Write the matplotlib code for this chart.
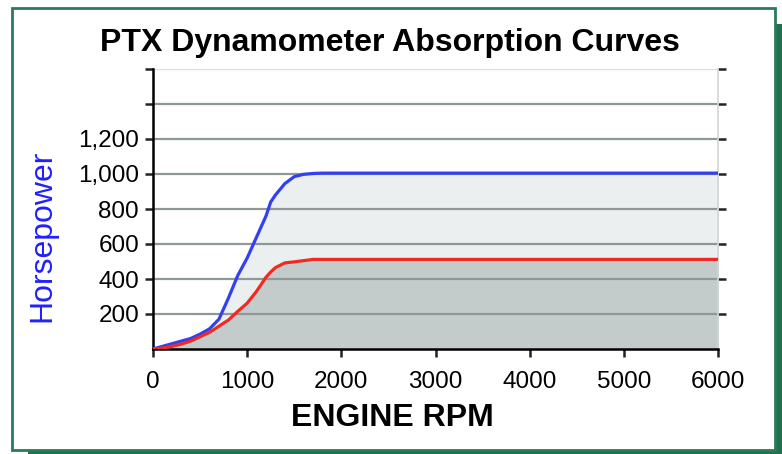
import matplotlib.pyplot as plt
from matplotlib.patches import Rectangle

# data
rpm = [0, 100, 200, 300, 400, 500, 600, 700, 750, 800, 900, 1000, 1100, 1200,
       1250, 1300, 1400, 1500, 1600, 1700, 1800, 6000]
blue_hp = [0, 15, 30, 45, 60, 85, 115, 170, 230, 290, 420, 520, 640, 760,
           840, 880, 945, 985, 998, 1003, 1005, 1005]
red_hp = [0, 5, 15, 28, 45, 70, 95, 130, 148, 165, 215, 262, 330, 410,
          440, 465, 492, 498, 505, 512, 512, 512]

x_ticks = [0, 1000, 2000, 3000, 4000, 5000, 6000]
y_ticks = [200, 400, 600, 800, 1000, 1200, 1400, 1600]
y_labels = ['200', '400', '600', '800', '1,000', '1,200', '', '']

plt.rcParams['font.family'] = ['Liberation Sans', 'DejaVu Sans']

W, H = 782, 454
fig = plt.figure(figsize=(W / 100, H / 100), dpi=100)
fig.patch.set_facecolor('white')

# green frame with drop shadow, kept behind the axes
green = '#2a7a5c'
fig.patches.append(Rectangle((28 / W, 1 - 456 / H), 754 / W, 432 / H,
                             transform=fig.transFigure, facecolor='#21704f',
                             edgecolor='none', zorder=-3))
fig.patches.append(Rectangle((12 / W, 1 - 450 / H), 763 / W, 442 / H,
                             transform=fig.transFigure, facecolor='white',
                             edgecolor=green, linewidth=2, zorder=-2))

ax = fig.add_axes([153 / W, 1 - 349 / H, 565 / W, 280 / H])
ax.set_facecolor('white')
ax.set_xlim(0, 6000)
ax.set_ylim(0, 1600)

ax.fill_between(rpm, red_hp, blue_hp, color='#eceff0', zorder=1)
ax.fill_between(rpm, 0, red_hp, color='#c3cccb', zorder=1)

for yv in y_ticks:
    c = '#d8dcdc' if yv == 1600 else '#8f9898'
    ax.axhline(yv, color=c, lw=1.6, zorder=2)

ax.plot(rpm, blue_hp, color='#3340f0', lw=2.3, zorder=3)
ax.plot(rpm, red_hp, color='#f02a22', lw=2.3, zorder=3)

ax.set_xticks(x_ticks)
ax.set_yticks(y_ticks)
ax.set_yticklabels(y_labels)
ax.tick_params(axis='both', labelsize=17.5, length=6, width=1.8, color='#222222')
ax.tick_params(axis='y', right=True, pad=4)
ax.tick_params(axis='x', pad=10)

ax.spines['top'].set_visible(False)
ax.spines['left'].set_linewidth(1.8)
ax.spines['bottom'].set_linewidth(1.8)
ax.spines['right'].set_color('#d0d6d6')
ax.spines['right'].set_linewidth(1.2)

ax.set_ylabel('Horsepower', color='#2020ff', fontsize=23, va='center')
ax.yaxis.set_label_coords(-0.195, 0.404)
ax.set_xlabel('ENGINE RPM', fontsize=23, fontweight='bold', va='center')
ax.xaxis.set_label_coords(0.423, -0.246)

fig.text(390 / W, 1 - 43 / H, 'PTX Dynamometer Absorption Curves',
         ha='center', va='center', fontsize=23, fontweight='bold')

fig.savefig('out.png', dpi=100)
